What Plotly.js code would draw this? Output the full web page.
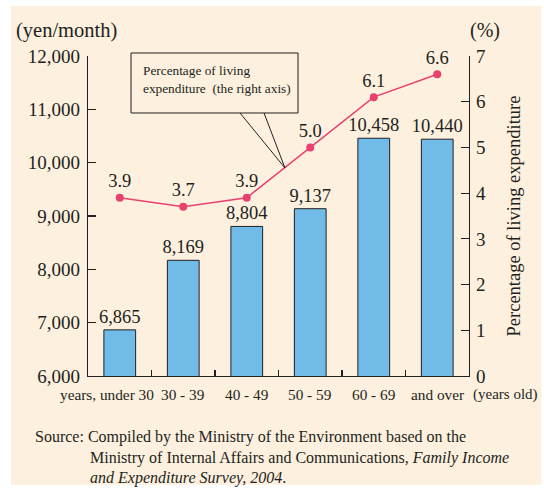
<!DOCTYPE html>
<html><head><meta charset="utf-8">
<script src="https://cdn.plot.ly/plotly-3.0.1.min.js"></script>
<style>html,body{margin:0;padding:0;background:#fff;}</style>
</head><body>
<div id="chart" style="width:544px;height:491px;"></div>
<script>
var categories = ["u30", "30-39", "40-49", "50-59", "60-69", "70+"];
var tickLabels = ["years, under 30", "30 - 39", "40 - 49", "50 - 59", "60 - 69", "and over"];
var expenditure = [6865, 8169, 8804, 9137, 10458, 10440];
var percentage = [3.9, 3.7, 3.9, 5.0, 6.1, 6.6];
var leftTicks = [6000, 7000, 8000, 9000, 10000, 11000, 12000];
var rightTicks = [0, 1, 2, 3, 4, 5, 6, 7];

var serif = "Liberation Serif";
var ink = "#231f20";

var barTrace = {
  type: "bar", x: categories, y: expenditure, yaxis: "y",
  width: 0.5,
  marker: {color: "#70bbe7", line: {color: ink, width: 1}},
  text: expenditure.map(function(v){ return v.toLocaleString("en-US"); }),
  textposition: "outside", cliponaxis: false, constraintext: "none",
  textfont: {family: serif, size: 18.5, color: ink},
  hoverinfo: "none"
};
var lineTrace = {
  type: "scatter", mode: "lines+markers+text", x: categories, y: percentage, yaxis: "y2",
  line: {color: "#e8416e", width: 1.5},
  marker: {color: "#e8416e", size: 8},
  text: percentage.map(function(v){ return v.toFixed(1); }),
  textposition: "top center", cliponaxis: false,
  textfont: {family: serif, size: 18.5, color: ink},
  hoverinfo: "none"
};

// category labels under the axis, placed on the category scale
var tickAnnotations = categories.map(function(c, i){
  return {xref: "x", yref: "paper", x: c, y: -0.059, xanchor: "center", yanchor: "middle",
          xshift: i === 0 ? -13 : 0,
          text: tickLabels[i], showarrow: false, font: {family: serif, size: 15.3, color: ink}};
});

var layout = {
  width: 544, height: 491,
  margin: {l: 88, r: 75, t: 56, b: 115},
  paper_bgcolor: "#ffffff", plot_bgcolor: "rgba(0,0,0,0)",
  showlegend: false,
  font: {family: serif, color: ink},
  bargap: 0.5,
  xaxis: {
    type: "category", range: [-0.5, 5.5],
    showticklabels: false,
    ticks: "inside", tickson: "boundaries", ticklen: 6, tickcolor: ink, tickwidth: 1.2,
    showline: true, linecolor: ink, linewidth: 1.3,
    showgrid: false, zeroline: false
  },
  yaxis: {
    range: [6000, 12000], tickvals: leftTicks, tickformat: ",",
    ticks: "inside", ticklen: 8, tickcolor: ink, tickwidth: 1.2,
    showline: true, linecolor: ink, linewidth: 1.3,
    showgrid: false, zeroline: false,
    tickfont: {family: serif, size: 19, color: ink},
    ticklabelstandoff: 3
  },
  yaxis2: {
    range: [0, 7], tickvals: rightTicks, overlaying: "y", side: "right",
    ticks: "inside", ticklen: 8, tickcolor: ink, tickwidth: 1.2,
    showline: true, linecolor: ink, linewidth: 1.3,
    showgrid: false, zeroline: false,
    tickfont: {family: serif, size: 19, color: ink},
    ticklabelstandoff: 2,
    title: {text: "Percentage of living expenditure", font: {family: serif, size: 18.5, color: ink}, standoff: 22}
  },
  shapes: [
    {type: "rect", xref: "paper", yref: "paper", x0: -0.202, x1: 1.19, y0: -0.34, y1: 1.156,
     fillcolor: "#fdf0df", line: {width: 0}, layer: "below"},
    {type: "rect", xref: "paper", yref: "paper", x0: 0.1129, x1: 0.5512, y0: 0.8219, y1: 1.0094,
     fillcolor: "rgba(0,0,0,0)", line: {color: ink, width: 1}},
    {type: "line", xref: "paper", yref: "paper", x0: 0.399, y0: 0.8219, x1: 0.517, y1: 0.65,
     line: {color: ink, width: 1}},
    {type: "line", xref: "paper", yref: "paper", x0: 0.462, y0: 0.8219, x1: 0.517, y1: 0.65,
     line: {color: ink, width: 1}}
  ],
  annotations: tickAnnotations.concat([
    {xref: "paper", yref: "paper", x: -0.194, y: 1.081, xanchor: "left", yanchor: "middle",
     text: "(yen/month)", showarrow: false, font: {family: serif, size: 20.5, color: ink}},
    {xref: "paper", yref: "paper", x: 1.042, y: 1.081, xanchor: "center", yanchor: "middle",
     text: "(%)", showarrow: false, font: {family: serif, size: 20, color: ink}},
    {xref: "paper", yref: "paper", x: 1.006, y: -0.059, xanchor: "left", yanchor: "middle",
     text: "(years old)", showarrow: false, font: {family: serif, size: 15, color: ink}},
    {xref: "paper", yref: "paper", x: 0.139, y: 0.956, xanchor: "left", yanchor: "middle",
     text: "Percentage of living", showarrow: false, font: {family: serif, size: 13.3, color: ink}},
    {xref: "paper", yref: "paper", x: 0.139, y: 0.897, xanchor: "left", yanchor: "middle",
     text: "expenditure\u00a0\u00a0(the right axis)", showarrow: false, font: {family: serif, size: 13.3, color: ink}},
    {xref: "paper", yref: "paper", x: -0.1444, y: -0.1906, xanchor: "left", yanchor: "middle",
     text: "Source: Compiled by the Ministry of the Environment based on the", showarrow: false,
     font: {family: serif, size: 16, color: ink}},
    {xref: "paper", yref: "paper", x: 0, y: -0.256, xanchor: "left", yanchor: "middle",
     text: "Ministry of Internal Affairs and Communications, <i>Family Income</i>", showarrow: false,
     font: {family: serif, size: 16, color: ink}},
    {xref: "paper", yref: "paper", x: 0, y: -0.319, xanchor: "left", yanchor: "middle",
     text: "<i>and Expenditure Survey, 2004</i>.", showarrow: false,
     font: {family: serif, size: 16, color: ink}}
  ])
};

Plotly.newPlot("chart", [barTrace, lineTrace], layout, {displayModeBar: false, staticPlot: true});
</script>
</body></html>
